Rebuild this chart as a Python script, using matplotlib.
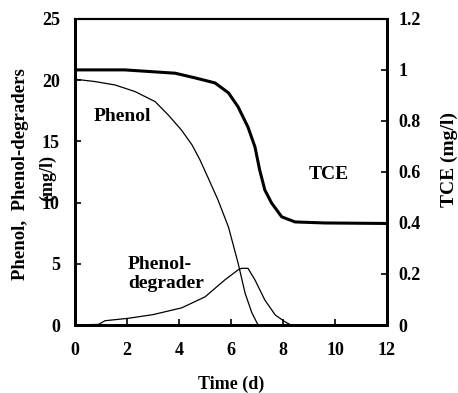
import matplotlib
matplotlib.use("Agg")
import matplotlib.pyplot as plt

plt.rcParams['font.family'] = ['Liberation Serif', 'DejaVu Serif']
plt.rcParams['font.weight'] = 'bold'

# phenol (mg/l) vs time (d)
phenol_t = [0, 0.77, 1.54, 2.31, 3.08, 3.58, 4.1, 4.5, 4.8, 5.1, 5.5, 5.9, 6.27, 6.54, 6.8, 7.04]
phenol_c = [20.07, 19.88, 19.6, 19.06, 18.24, 17.16, 15.9, 14.7, 13.5, 12.1, 10.2, 8.0, 5.06, 2.6, 1.0, 0.0]

# phenol degraders (mg/l)
deg_t = [0, 0.9, 1.15, 2.05, 3.0, 4.1, 5.0, 5.77, 6.27, 6.4, 6.65, 6.92, 7.3, 7.7, 8.07, 8.3, 12]
deg_c = [0.0, 0.05, 0.35, 0.55, 0.85, 1.4, 2.3, 3.7, 4.5, 4.63, 4.63, 3.68, 2.04, 0.82, 0.27, 0.0, 0.0]

# TCE (mg/l), right axis
tce_t = [0, 1.9, 3.1, 3.85, 4.6, 5.38, 5.9, 6.27, 6.65, 6.92, 7.1, 7.3, 7.56, 7.95, 8.46, 9.6, 12]
tce_c = [1.0, 1.0, 0.992, 0.987, 0.969, 0.949, 0.91, 0.855, 0.776, 0.698, 0.608, 0.529, 0.478, 0.424, 0.404, 0.40, 0.398]

fig = plt.figure(figsize=(4.58, 3.93), dpi=100)
ax = fig.add_axes([0.164, 0.173, 0.681, 0.779])
ax2 = ax.twinx()

ax.plot(phenol_t, phenol_c, color='black', lw=0.9)
ax.plot(deg_t, deg_c, color='black', lw=0.9)
ax2.plot(tce_t, tce_c, color='black', lw=2.2)

ax.set_xlim(0, 12)
ax.set_ylim(0, 25)
ax2.set_ylim(0, 1.2)
ax.set_xticks(range(0, 13, 2))
ax.set_yticks(range(0, 26, 5))
ax2.set_yticks([0, 0.2, 0.4, 0.6, 0.8, 1.0, 1.2])
ax2.set_yticklabels(['0', '0.2', '0.4', '0.6', '0.8', '1', '1.2'])

for a in (ax, ax2):
    a.tick_params(direction='in', length=4, width=1.2, labelsize=13, pad=8)
    for s in a.spines.values():
        s.set_linewidth(2)
    a.spines['top'].set_linewidth(1.5)
ax.tick_params(axis='y', pad=11)
ax.tick_params(axis='x', pad=12)

ax.set_xlabel('Time (d)', fontsize=13, fontweight='bold', labelpad=12)
ax.text(-0.176, 0.493, 'Phenol,  Phenol-degraders', transform=ax.transAxes,
        rotation=90, ha='center', va='center', fontsize=13.5, fontweight='bold')
ax.text(-0.087, 0.48, '(mg/l)', transform=ax.transAxes,
        rotation=90, ha='center', va='center', fontsize=13, fontweight='bold')
ax2.set_ylabel('TCE (mg/l)', fontsize=14, fontweight='bold')
ax2.yaxis.set_label_coords(1.173, 0.54)

ax.text(0.7, 17.0, 'Phenol', fontsize=14, fontweight='bold', va='center')
ax.text(9.0, 12.3, 'TCE', fontsize=14, fontweight='bold', va='center')
ax.text(2.04, 4.2, 'Phenol-\ndegrader', fontsize=14, fontweight='bold',
        va='center', linespacing=1.15)

fig.savefig('out.png', dpi=100)
